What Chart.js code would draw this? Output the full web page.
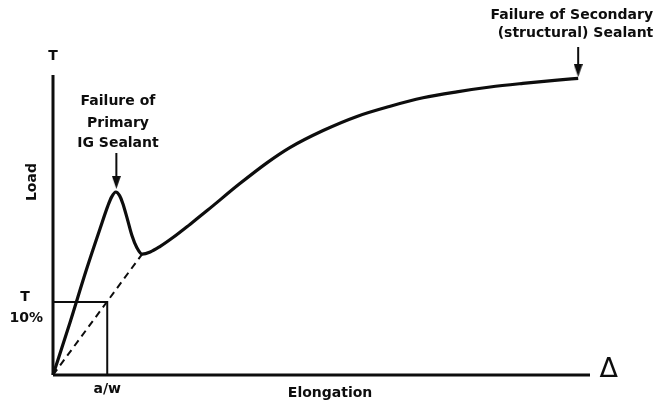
<!DOCTYPE html>
<html>
<head>
<meta charset="utf-8">
<script src="https://cdn.jsdelivr.net/npm/chart.js@4.4.1/dist/chart.umd.min.js"></script>
<style>
  body { margin: 0; background: #fff; }
</style>
</head>
<body>
<canvas id="chart" width="658" height="406"></canvas>
<script>
// load / elongation curve (arbitrary units)
const curveX = [0, 3.2, 6.2, 8.8, 10.2, 10.9, 11.7, 12.4, 13.0, 13.8, 14.7, 15.6, 16.6, 18.1, 19.9, 22.4, 25.5, 28.7, 34.8, 39.9, 44.1, 50.3, 56.6, 62.8, 68.9, 75.2, 81.4, 87.5, 93.9, 97.8];
const curveY = [0, 17.7, 35, 49, 56.3, 59.3, 61, 59.8, 57.2, 52.3, 46.5, 42.5, 40.3, 41, 42.8, 45.9, 50.2, 54.8, 63.8, 70.8, 75.8, 81.5, 86.2, 89.6, 92.4, 94.4, 96, 97.2, 98.3, 98.9];

// dashed secant from origin to the valley
const secantX = [0, 16.6];
const secantY = [0, 40.3];

// a/w and T 10% box
const awValue = 10.1;
const t10Value = 24.3;

// axes extent
const axisMaxX = 100;
const axisMaxY = 100;

// arrows: [x, top, head centre]
const peakArrow = [11.8, 74, 64.2];
const endArrow = [97.8, 109.3, 101.5];

// text labels
const labelText = ["T", "Load", "T", "10%", "a/w", "Elongation", "Failure of", "Primary", "IG Sealant", "Failure of Secondary", "(structural) Sealant"];
const labelX = [0, -3.9, -5.2, -5.0, 10.1, 51.6, 12.1, 12.1, 12.1, 96.6, 97.3];
const labelY = [106.3, 64.3, 26, 19, -4.7, -6, 91.3, 84, 77.3, 120, 114];
const deltaLabel = { text: "Δ", x: 103.5, y: 1.7 };

const ink = "#0d0d0d";

function pts(xs, ys) {
  return xs.map((x, i) => ({ x: x, y: ys[i] }));
}

function lineSet(data, width, dash) {
  return {
    data: data,
    showLine: true,
    borderColor: ink,
    borderWidth: width,
    borderDash: dash || [],
    pointRadius: 0,
    fill: false,
    clip: false,
  };
}

// narrow arrow head used as a point style
const head = document.createElement("canvas");
head.width = 9;
head.height = 13;
const hctx = head.getContext("2d");
hctx.fillStyle = ink;
hctx.beginPath();
hctx.moveTo(0, 0);
hctx.lineTo(9, 0);
hctx.lineTo(4.5, 13);
hctx.closePath();
hctx.fill();

const textPlugin = {
  id: "textLabels",
  afterDatasetsDraw(chart) {
    const ctx = chart.ctx;
    const sx = chart.scales.x;
    const sy = chart.scales.y;
    ctx.save();
    ctx.fillStyle = ink;
    ctx.textAlign = "center";
    ctx.textBaseline = "middle";
    labelText.forEach((t, i) => {
      const px = sx.getPixelForValue(labelX[i]);
      const py = sy.getPixelForValue(labelY[i]);
      ctx.font = "bold 14px 'DejaVu Sans'";
      if (t === "Load") {
        ctx.save();
        ctx.translate(px, py);
        ctx.rotate(-Math.PI / 2);
        ctx.fillText(t, 0, 0);
        ctx.restore();
      } else {
        ctx.fillText(t, px, py);
      }
    });
    ctx.font = "27px 'DejaVu Sans'";
    ctx.fillText(deltaLabel.text, sx.getPixelForValue(deltaLabel.x), sy.getPixelForValue(deltaLabel.y));
    ctx.restore();
  },
};

const headPoints = [
  { x: peakArrow[0], y: peakArrow[2] },
  { x: endArrow[0], y: endArrow[2] },
];

new Chart(document.getElementById("chart"), {
  type: "scatter",
  data: {
    datasets: [
      Object.assign(lineSet(pts(curveX, curveY), 3.2), { cubicInterpolationMode: "monotone" }),
      lineSet(pts(secantX, secantY), 2, [7, 5]),
      lineSet([{ x: 0, y: t10Value }, { x: awValue, y: t10Value }, { x: awValue, y: 0 }], 2),
      lineSet([{ x: 0, y: 0 }, { x: 0, y: axisMaxY }], 3),
      lineSet([{ x: 0, y: 0 }, { x: axisMaxX, y: 0 }], 3),
      lineSet([{ x: peakArrow[0], y: peakArrow[1] }, { x: peakArrow[0], y: peakArrow[2] }], 2),
      lineSet([{ x: endArrow[0], y: endArrow[1] }, { x: endArrow[0], y: endArrow[2] }], 2),
      {
        data: headPoints,
        pointStyle: head,
        pointRadius: 6,
        clip: false,
      },
    ],
  },
  options: {
    responsive: false,
    animation: false,
    layout: {
      padding: { left: 53, right: 68, top: 39, bottom: 31 },
    },
    scales: {
      x: { type: "linear", min: 0, max: 100, display: false },
      y: { type: "linear", min: 0, max: 112, display: false },
    },
    plugins: {
      legend: { display: false },
      tooltip: { enabled: false },
    },
    events: [],
  },
  plugins: [textPlugin],
});
</script>
</body>
</html>
